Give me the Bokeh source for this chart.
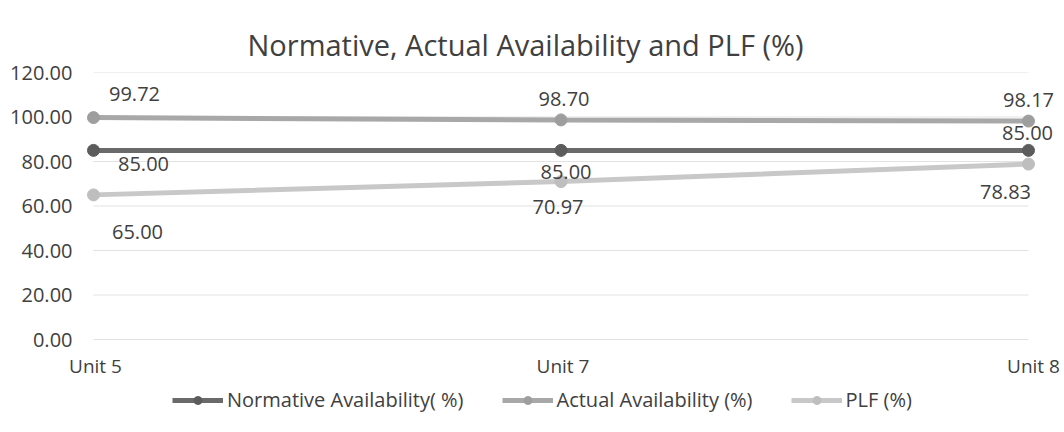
from bokeh.plotting import figure
from bokeh.models import (Range1d, FixedTicker, NumeralTickFormatter, ColumnDataSource,
                          LabelSet, Legend, LegendItem)
from bokeh.core.properties import value
from bokeh.embed import file_html
from bokeh.resources import INLINE

# ---------------- data ----------------
categories = ["Unit 5", "Unit 7", "Unit 8"]
normative = [85.00, 85.00, 85.00]
actual = [99.72, 98.70, 98.17]
plf = [65.00, 70.97, 78.83]
series_names = ["Normative Availability( %)", "Actual Availability (%)", "PLF (%)"]
y_ticks = [0, 20, 40, 60, 80, 100, 120]
title_text = "Normative, Actual Availability and PLF (%)"

# ---------------- styling / layout (not data) ----------------
FONT = "Open Sans"
TEXT = "#404040"
colors = ["#6a6a6a", "#a8a8a8", "#c8c8c8"]
marker_colors = ["#5c5c5c", "#9e9e9e", "#bebebe"]
# data-label offsets in screen px (dx, dy up) per series
label_dx = [[50, 5, -1], [41, 3, 0], [44, -3, -23]]
label_dy = [[-14, -22, 17], [24, 21, 21], [-37, -25, -28]]
cat_dx = [2, 2, 5]

xs = list(range(len(categories)))
y_lo = min(y_ticks)
y_hi = max(y_ticks)

# frame: left 60px, right 1060px; top 72px, bottom 420px
px_per_x = 467.5
px_per_y = (339 - 72) / (y_hi - y_lo)
p = figure(width=1062, height=424, output_backend="svg", toolbar_location=None,
           x_axis_location=None,
           x_range=Range1d(xs[0] - 33 / px_per_x, xs[-1] + 32 / px_per_x),
           y_range=Range1d(y_lo - 81 / px_per_y, y_hi),
           min_border_left=60, min_border_right=2, min_border_top=72, min_border_bottom=4)
p.background_fill_color = "white"
p.border_fill_color = "white"
p.outline_line_color = None

# title
p.title.text = title_text
p.title.align = "left"
p.title.offset = 187
p.title.text_font = FONT
p.title.text_font_size = "29px"
p.title.text_font_style = "normal"
p.title.text_color = TEXT
p.title.standoff = 17

# y axis
p.yaxis.ticker = FixedTicker(ticks=y_ticks)
p.yaxis.formatter = NumeralTickFormatter(format="0.00")
p.yaxis.axis_line_color = None
p.yaxis.major_tick_line_color = None
p.yaxis.minor_tick_line_color = None
p.yaxis.major_tick_out = 0
p.yaxis.minor_tick_out = 0
p.yaxis.major_label_standoff = -12
p.yaxis.major_label_text_font = FONT
p.yaxis.major_label_text_font_size = "20px"
p.yaxis.major_label_text_color = TEXT

# gridlines spanning the category extent only
p.xgrid.grid_line_color = None
p.ygrid.grid_line_color = None
p.segment(x0=[xs[0]] * len(y_ticks), x1=[xs[-1]] * len(y_ticks), y0=y_ticks, y1=y_ticks,
          line_color="#e2e2e2", line_width=1, level="underlay")

# category labels under the 0 line
cat_src = ColumnDataSource(dict(x=xs, y=[y_lo] * len(xs), t=categories, dx=cat_dx))
p.add_layout(LabelSet(x="x", y="y", text="t", source=cat_src, x_offset="dx", y_offset=-26,
                      text_align="center", text_baseline="middle",
                      text_font=value(FONT), text_font_size="19px", text_color=TEXT))

# series
series = [normative, actual, plf]
items = []
for i, (vals, name) in enumerate(zip(series, series_names)):
    src = ColumnDataSource(dict(x=xs, y=vals,
                                lbl=["%.2f" % v for v in vals],
                                dx=label_dx[i], dy=label_dy[i]))
    ln = p.line("x", "y", source=src, line_color=colors[i], line_width=5)
    sc = p.scatter("x", "y", source=src, size=12, marker="circle",
                   fill_color=marker_colors[i], line_color=marker_colors[i])
    items.append(LegendItem(label=name, renderers=[ln, sc]))
    p.add_layout(LabelSet(x="x", y="y", text="lbl", source=src,
                          x_offset="dx", y_offset="dy",
                          text_align="center", text_baseline="middle",
                          text_font=value(FONT), text_font_size="20px", text_color=TEXT))

legend = Legend(items=items, orientation="horizontal", location=(112, 7),
                glyph_width=51, glyph_height=20, label_height=20,
                label_text_font=FONT, label_text_font_size="20px",
                label_text_color=TEXT, label_standoff=4, spacing=38,
                padding=0, margin=0, border_line_color=None,
                background_fill_alpha=0)
p.add_layout(legend, "center")

open("out.html", "w").write(file_html(p, INLINE))
